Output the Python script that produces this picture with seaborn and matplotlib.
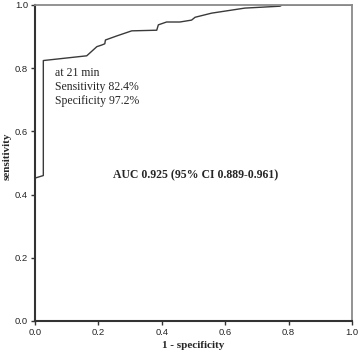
import seaborn as sns
from matplotlib import pyplot as plt

# ROC curve points
fpr = [0.0, 0.0, 0.026, 0.026, 0.163, 0.195, 0.21, 0.22, 0.222, 0.258, 0.305,
       0.384, 0.389, 0.415, 0.457, 0.494, 0.505, 0.557, 0.662, 0.773, 0.78, 1.0]
tpr = [0.0, 0.452, 0.460, 0.824, 0.839, 0.868, 0.873, 0.877, 0.889, 0.902, 0.918,
       0.920, 0.937, 0.946, 0.946, 0.952, 0.961, 0.974, 0.990, 0.996, 1.0, 1.0]
ticks = [0.0, 0.2, 0.4, 0.6, 0.8, 1.0]
tick_labels = ['0.0', '0.2', '0.4', '0.6', '0.8', '1.0']


def roc_plot():
    sns.set_style('white')
    fig = plt.figure(figsize=(3.58, 3.53), dpi=100)
    ax = fig.add_axes([0.098, 0.091, 0.885, 0.895])
    sns.lineplot(x=fpr, y=tpr, estimator=None, sort=False, color='#3a3a3a',
                 linewidth=1.0, ax=ax)
    ax.set_xlim(0, 1)
    ax.set_ylim(0, 1)
    ax.set_xticks(ticks, tick_labels, fontsize=6.8, family='Liberation Sans')
    ax.set_yticks(ticks, tick_labels, fontsize=6.8, family='Liberation Sans')
    ax.tick_params(axis='both', direction='out', length=3, width=1,
                   color='#333333', pad=2, left=True, bottom=True)
    for side in ['left', 'bottom']:
        ax.spines[side].set_color('#333333')
        ax.spines[side].set_linewidth(1.5)
    for side in ['top', 'right']:
        ax.spines[side].set_color('#8a8a8a')
        ax.spines[side].set_linewidth(1.3)
    ax.set_xlabel('1 - specificity', fontsize=8, fontweight='bold',
                  family='Liberation Serif', labelpad=3)
    ax.set_ylabel('sensitivity', fontsize=8, fontweight='bold',
                  family='Liberation Serif')
    ax.yaxis.set_label_coords(-0.073, 0.52)
    ax.text(0.063, 0.74, 'at 21 min\nSensitivity 82.4%\nSpecificity 97.2%',
            fontsize=8.5, family='Liberation Serif', va='center', ha='left',
            linespacing=1.25)
    ax.text(0.508, 0.46, 'AUC 0.925 (95% CI 0.889-0.961)', fontsize=8.5,
            fontweight='bold', family='Liberation Serif', ha='center', va='center')
    fig.savefig('out.png', dpi=100)


if __name__ == '__main__':
    roc_plot()
